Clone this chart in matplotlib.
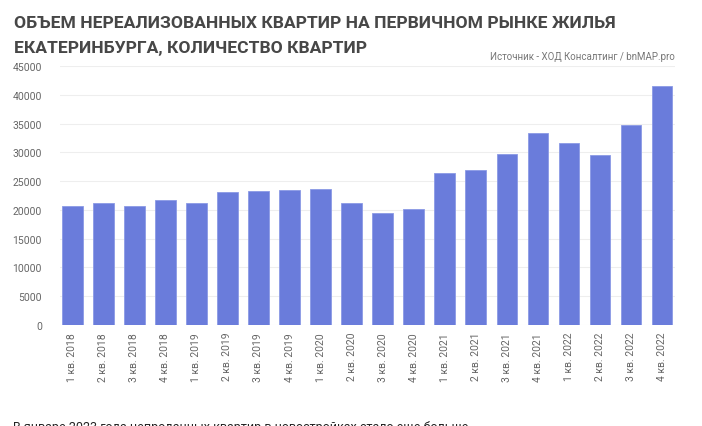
import matplotlib
matplotlib.use("Agg")
import matplotlib.pyplot as plt
import numpy as np

# quarters and unsold flats
quarters = ["1 кв. 2018", "2 кв. 2018", "3 кв. 2018", "4 кв. 2018",
            "1 кв. 2019", "2 кв. 2019", "3 кв. 2019", "4 кв. 2019",
            "1 кв. 2020", "2 кв. 2020", "3 кв. 2020", "4 кв. 2020",
            "1 кв. 2021", "2 кв. 2021", "3 кв. 2021", "4 кв. 2021",
            "1 кв. 2022", "2 кв. 2022", "3 кв. 2022", "4 кв. 2022"]
flats = [20700, 21200, 20600, 21800,
         21200, 23100, 23300, 23400,
         23600, 21200, 19400, 20200,
         26400, 27000, 29800, 33300,
         31700, 29600, 34800, 41600]
yticks = list(range(0, 45001, 5000))

title_lines = ["ОБЪЕМ НЕРЕАЛИЗОВАННЫХ КВАРТИР НА ПЕРВИЧНОМ РЫНКЕ ЖИЛЬЯ",
               "ЕКАТЕРИНБУРГА, КОЛИЧЕСТВО КВАРТИР"]
source = "Источник - ХОД Консалтинг / bnMAP.pro"
caption = "В январе 2023 года непроданных квартир в новостройках стало еще больше"

plt.rcParams['font.family'] = ['Roboto', 'DejaVu Sans']

fig = plt.figure(figsize=(7.02, 4.27), dpi=100)
ax = fig.add_axes([0.0855, 0.2365, 0.876, 0.6065])

x = np.arange(len(quarters))
ax.bar(x, flats, width=0.65, color="#6a7cdb", edgecolor="#8b9ae6", linewidth=0.6, zorder=2)

ax.set_ylim(0, 45000)
ax.set_xlim(-0.4, len(quarters) - 0.57)
ax.set_yticks(yticks)
ax.set_yticklabels([str(v) for v in yticks])
ax.set_xticks(x)
ax.set_xticklabels(quarters, rotation=90)
ax.tick_params(axis="both", length=0, colors="#666666", labelsize=7.5)
ax.tick_params(axis="y", pad=13)
ax.tick_params(axis="x", pad=5)
ax.grid(axis="y", color="#eeeeee", linewidth=0.8, zorder=0)
for s in ax.spines.values():
    s.set_visible(False)

# title, one text per line
for i, line in enumerate(title_lines):
    fig.text(0.02, 0.945 - i * 0.058, line, ha="left", va="center", fontsize=12.6,
             fontweight="bold", color="#474747")
fig.text(0.962, 0.866, source, ha="right", va="center", fontsize=7, color="#777777")
fig.text(0.018, -0.002, caption, ha="left", va="center", fontsize=9, color="#222222")

fig.savefig("out.png", dpi=100)
